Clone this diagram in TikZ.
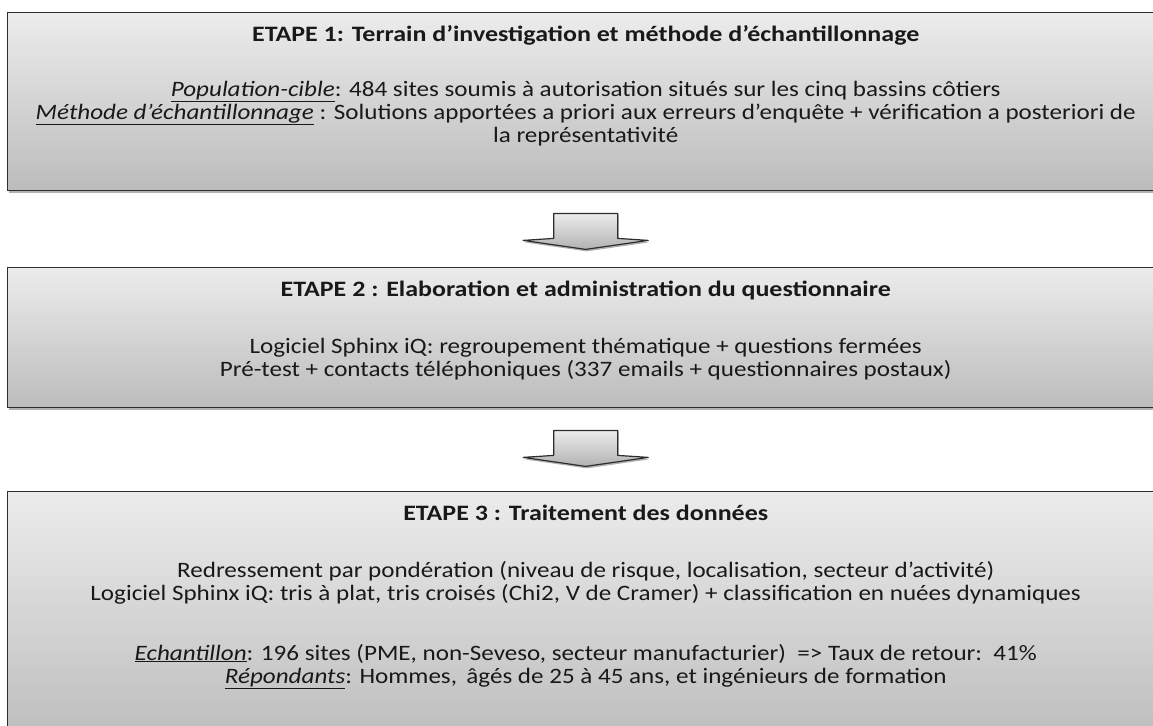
\documentclass[tikz,border=0pt]{standalone}
\usepackage{fontspec}
\setmainfont[FakeStretch=1.14, BoldFeatures={FakeStretch=1.18}]{Carlito}
\usetikzlibrary{calc,shadows}
\definecolor{boxtop}{RGB}{236,236,236}
\definecolor{boxbot}{RGB}{188,188,188}
\definecolor{boxline}{RGB}{45,45,45}
\definecolor{textcol}{RGB}{25,25,25}
\definecolor{arrtop}{RGB}{236,236,236}
\definecolor{arrbot}{RGB}{178,178,178}
\tikzset{
  stagebox/.style={draw=boxline, line width=1.4pt, top color=boxtop, bottom color=boxbot,
    minimum width=1156pt, anchor=north west, inner sep=0pt,
    drop shadow={shadow xshift=1.5pt, shadow yshift=-2.5pt, opacity=0.3, fill=black}},
  txt/.style={text=textcol, font=\fontsize{22}{23}\selectfont, align=center, inner sep=0pt, anchor=base},
  ttl/.style={txt, font=\fontsize{22}{23}\selectfont\bfseries},
  blockarrow/.style={draw=boxline, line width=1.2pt, top color=arrtop, bottom color=arrbot, line join=round,
    drop shadow={shadow xshift=1pt, shadow yshift=-2pt, opacity=0.3, fill=black}},
}
\newcommand{\lbl}[1]{$\underline{\hbox{\itshape #1}}$}
\begin{document}
\begin{tikzpicture}[x=1pt,y=1pt]
\useasboundingbox (0,0) rectangle (1153,-725);
\fill[white] (0,0) rectangle (1153,-725);

% boxes
\node[stagebox, minimum height=178pt] (b1) at (7,-12) {};
\node[stagebox, minimum height=140pt] (b2) at (7,-267) {};
\node[stagebox, minimum height=255pt] (b3) at (7,-491) {};

% box 1 texts (base anchor = baseline of the last line)
\node[ttl] (t1) at ($(b1.north)+(0,-30)$) {ETAPE 1: Terrain d’investigation et méthode d’échantillonnage};
\node[txt] (c1) at ($(b1.north)+(0,-130)$) {\lbl{Population-cible}: 484 sites soumis à autorisation situés sur les cinq bassins côtiers\\
\lbl{Méthode d’échantillonnage} : Solutions apportées a priori aux erreurs d’enquête + vérification a posteriori de\\
la représentativité};

% box 2 texts
\node[ttl] (t2) at ($(b2.north)+(0,-29)$) {ETAPE 2 : Elaboration et administration du questionnaire};
\node[txt] (c2) at ($(b2.north)+(0,-109)$) {Logiciel Sphinx iQ: regroupement thématique + questions fermées\\
Pré-test + contacts téléphoniques (337 emails + questionnaires postaux)};

% box 3 texts
\node[ttl] (t3) at ($(b3.north)+(0,-29)$) {ETAPE 3 : Traitement des données};
\node[txt] (c3) at ($(b3.north)+(0,-192)$) {Redressement par pondération (niveau de risque, localisation, secteur d’activité)\\
Logiciel Sphinx iQ: tris à plat, tris croisés (Chi2, V de Cramer) + classification en nuées dynamiques\\[37pt]
\lbl{Echantillon}: 196 sites (PME, non-Seveso, secteur manufacturier) \ => Taux de retour: \,41\%\\
\lbl{Répondants}: Hommes, \,âgés de 25 à 45 ans, et ingénieurs de formation};

% block arrows
\foreach \src in {b1,b2}{
  \coordinate (s) at ($(\src.south)+(0,-22)$);
  \draw[blockarrow] ($(s)+(-32,0)$) -- ($(s)+(32,0)$) -- ($(s)+(32,-25)$) -- ($(s)+(62.5,-27)$)
     -- ($(s)+(0,-36)$) -- ($(s)+(-62.5,-27)$) -- ($(s)+(-32,-25)$) -- cycle;
}
\end{tikzpicture}
\end{document}
